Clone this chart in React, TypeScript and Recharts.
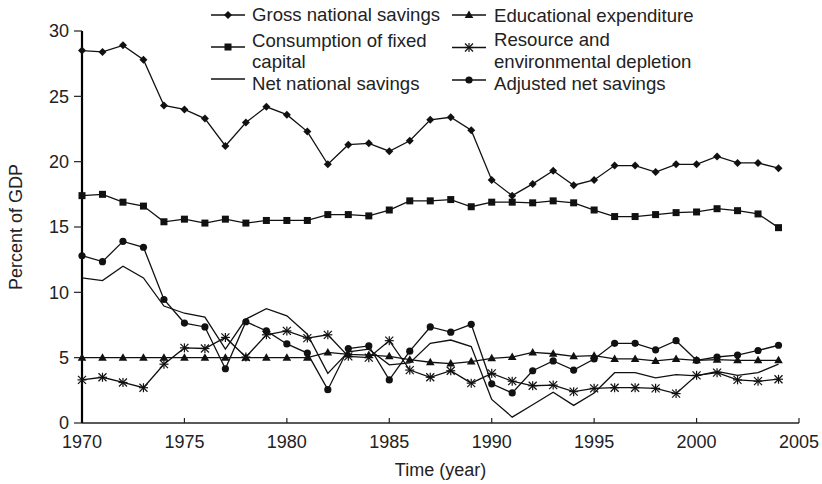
import { LineChart, Line, XAxis, YAxis, Legend } from 'recharts';

const years = [
  1970, 1971, 1972, 1973, 1974, 1975, 1976, 1977, 1978, 1979, 1980, 1981,
  1982, 1983, 1984, 1985, 1986, 1987, 1988, 1989, 1990, 1991, 1992, 1993,
  1994, 1995, 1996, 1997, 1998, 1999, 2000, 2001, 2002, 2003, 2004,
];

const grossSavings = [
  28.5, 28.4, 28.9, 27.8, 24.3, 24.0, 23.3, 21.2, 23.0, 24.2, 23.6, 22.3,
  19.8, 21.3, 21.4, 20.8, 21.6, 23.2, 23.4, 22.4, 18.6, 17.4, 18.3, 19.3,
  18.2, 18.6, 19.7, 19.7, 19.2, 19.8, 19.8, 20.4, 19.9, 19.9, 19.5,
];

const fixedCapital = [
  17.4, 17.5, 16.9, 16.6, 15.4, 15.6, 15.3, 15.6, 15.3, 15.5, 15.5, 15.5,
  15.95, 15.95, 15.85, 16.3, 17.0, 17.0, 17.1, 16.55, 16.9, 16.9, 16.85, 17.0,
  16.85, 16.3, 15.8, 15.8, 15.95, 16.1, 16.15, 16.4, 16.25, 16.0, 14.95,
];

const netSavings = [
  11.1, 10.9, 12.0, 11.1, 8.95, 8.4, 8.1, 5.65, 7.95, 8.75, 8.2, 6.8,
  3.8, 5.45, 5.65, 4.45, 4.6, 6.1, 6.35, 5.85, 1.8, 0.45, 1.4, 2.35,
  1.35, 2.3, 3.85, 3.85, 3.45, 3.7, 3.6, 3.95, 3.65, 3.85, 4.5,
];

const education = [
  5.0, 5.0, 5.0, 5.0, 5.0, 5.0, 5.0, 5.0, 5.0, 5.0, 5.0, 5.0,
  5.4, 5.25, 5.2, 5.1, 4.85, 4.65, 4.55, 4.7, 4.95, 5.05, 5.4, 5.3,
  5.1, 5.15, 4.9, 4.9, 4.75, 4.9, 4.8, 4.85, 4.8, 4.8, 4.8,
];

const depletion = [
  3.3, 3.5, 3.1, 2.7, 4.5, 5.75, 5.7, 6.55, 5.05, 6.75, 7.05, 6.5,
  6.75, 5.1, 5.0, 6.3, 4.05, 3.5, 4.0, 3.05, 3.8, 3.2, 2.85, 2.9,
  2.4, 2.65, 2.7, 2.7, 2.65, 2.25, 3.65, 3.85, 3.3, 3.2, 3.35,
];

const adjustedSavings = [
  12.8, 12.35, 13.9, 13.45, 9.45, 7.65, 7.35, 4.15, 7.75, 7.05, 6.05, 5.35,
  2.55, 5.7, 5.9, 3.3, 5.5, 7.35, 6.95, 7.55, 3.0, 2.3, 4.0, 4.75,
  4.05, 4.9, 6.1, 6.1, 5.6, 6.3, 4.8, 5.05, 5.2, 5.55, 5.95,
];

const xTicks = [1970, 1975, 1980, 1985, 1990, 1995, 2000, 2005];
const yTicks = [0, 5, 10, 15, 20, 25, 30];

const data = years.map((year, i) => ({
  year,
  gross: grossSavings[i],
  capital: fixedCapital[i],
  net: netSavings[i],
  edu: education[i],
  depl: depletion[i],
  adj: adjustedSavings[i],
}));

const INK = '#111';
const FONT = '"Liberation Sans", Arial, sans-serif';

const Diamond = ({ cx, cy }: any) => (
  <polygon
    points={`${cx},${cy - 4} ${cx + 4},${cy} ${cx},${cy + 4} ${cx - 4},${cy}`}
    fill={INK}
  />
);
const Square = ({ cx, cy }: any) => (
  <rect x={cx - 3.5} y={cy - 3.5} width={7} height={7} fill={INK} />
);
const Dot = ({ cx, cy }: any) => <circle cx={cx} cy={cy} r={3.6} fill={INK} />;
const Triangle = ({ cx, cy }: any) => (
  <polygon
    points={`${cx},${cy - 4.5} ${cx + 4.3},${cy + 3} ${cx - 4.3},${cy + 3}`}
    fill={INK}
  />
);
const Star = ({ cx, cy }: any) => (
  <g stroke={INK} strokeWidth={1.2}>
    <line x1={cx - 4} y1={cy - 4} x2={cx + 4} y2={cy + 4} />
    <line x1={cx - 4} y1={cy + 4} x2={cx + 4} y2={cy - 4} />
    <line x1={cx} y1={cy - 4.5} x2={cx} y2={cy + 4.5} />
    <line x1={cx - 4.5} y1={cy} x2={cx + 4.5} y2={cy} />
  </g>
);

const dotWith = (Shape: any, name: string) => (props: any) =>
  <Shape key={`${name}-${props.index}`} cx={props.cx} cy={props.cy} />;

function LegendBox() {
  const col1 = 211;
  const col2 = 452;
  const seg = 34;
  const t1 = 252;
  const t2 = 494;
  const txt = { fontFamily: FONT, fontSize: 18.6, fill: '#222' };
  const entry = (x: number, y: number, Shape: any) => (
    <g>
      <line x1={x} y1={y} x2={x + seg} y2={y} stroke={INK} strokeWidth={1.3} />
      {Shape ? <Shape cx={x + seg / 2} cy={y} /> : null}
    </g>
  );
  return (
    <svg width={822} height={100} style={{ display: 'block' }}>
      {entry(col1, 15, Diamond)}
      <text x={t1} y={21} {...txt}>Gross national savings</text>
      {entry(col1, 47, Square)}
      <text x={t1} y={46.5} {...txt}>Consumption of fixed</text>
      <text x={t1} y={68} {...txt}>capital</text>
      {entry(col1, 79, null)}
      <text x={t1} y={89.5} {...txt}>Net national savings</text>

      {entry(col2, 15, Triangle)}
      <text x={t2} y={21.5} {...txt}>Educational expenditure</text>
      {entry(col2, 47.5, Star)}
      <text x={t2} y={46} {...txt}>Resource and</text>
      <text x={t2} y={68} {...txt}>environmental depletion</text>
      {entry(col2, 80, Dot)}
      <text x={t2} y={89.5} {...txt}>Adjusted net savings</text>
    </svg>
  );
}

export default function App() {
  const tickStyle = { fontFamily: FONT, fontSize: 18, fill: '#222' };
  return (
    <div
      style={{
        position: 'absolute',
        left: 0,
        top: 0,
        width: 822,
        height: 484,
        background: '#fff',
      }}
    >
      <LineChart
        width={822}
        height={484}
        data={data}
        margin={{ top: 31, right: 23, bottom: 1, left: 22 }}
      >
        <XAxis
          dataKey="year"
          type="number"
          domain={[1970, 2005]}
          ticks={xTicks}
          interval={0}
          height={60}
          tick={tickStyle}
          tickSize={-5}
          tickMargin={17}
          axisLine={{ stroke: '#222', strokeWidth: 1.5 }}
          tickLine={{ stroke: '#222', strokeWidth: 1.2 }}
          label={{
            value: 'Time (year)',
            position: 'insideBottom',
            offset: 7,
            style: { fontFamily: FONT, fontSize: 18, fill: '#222' },
          }}
        />
        <YAxis
          type="number"
          domain={[0, 30]}
          ticks={yTicks}
          interval={0}
          width={60}
          tick={tickStyle}
          tickSize={8}
          tickMargin={5}
          axisLine={{ stroke: '#000', strokeWidth: 2.2 }}
          tickLine={{ stroke: '#222', strokeWidth: 1.2 }}
          label={{
            value: 'Percent of GDP',
            angle: -90,
            position: 'insideLeft',
            offset: -6,
            style: { fontFamily: FONT, fontSize: 18, fill: '#222', textAnchor: 'middle' },
          }}
        />
        <Legend
          verticalAlign="middle"
          align="center"
          layout="horizontal"
          wrapperStyle={{ position: 'absolute', top: 0, left: 0, width: 822, height: 100 }}
          content={() => <LegendBox />}
        />
        <Line
          dataKey="gross"
          stroke={INK}
          strokeWidth={1.3}
          dot={dotWith(Diamond, 'g')}
          activeDot={false}
          isAnimationActive={false}
        />
        <Line
          dataKey="capital"
          stroke={INK}
          strokeWidth={1.3}
          dot={dotWith(Square, 'c')}
          activeDot={false}
          isAnimationActive={false}
        />
        <Line
          dataKey="edu"
          stroke={INK}
          strokeWidth={1.3}
          dot={dotWith(Triangle, 'e')}
          activeDot={false}
          isAnimationActive={false}
        />
        <Line
          dataKey="depl"
          stroke={INK}
          strokeWidth={1.3}
          dot={dotWith(Star, 'd')}
          activeDot={false}
          isAnimationActive={false}
        />
        <Line
          dataKey="net"
          stroke={INK}
          strokeWidth={1.3}
          dot={false}
          activeDot={false}
          isAnimationActive={false}
        />
        <Line
          dataKey="adj"
          stroke={INK}
          strokeWidth={1.3}
          dot={dotWith(Dot, 'a')}
          activeDot={false}
          isAnimationActive={false}
        />
      </LineChart>
    </div>
  );
}
